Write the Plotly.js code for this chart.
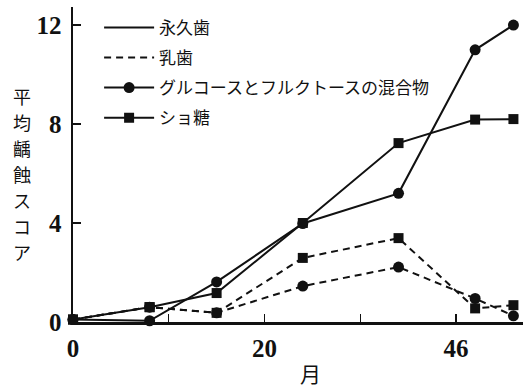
<!DOCTYPE html>
<html><head><meta charset="utf-8">
<script src="https://cdn.plot.ly/plotly-3.0.1.min.js"></script>
<style>html,body{margin:0;padding:0;background:#fff}#chart{width:532px;height:388px}</style>
</head><body><div id="chart"></div>
<script>
// Data
const months = [0, 8, 15, 24, 34, 42, 46];
const permGlucose = [0.1, 0.05, 1.62, 3.98, 5.2, 11.0, 12.0];
const permSucrose = [0.1, 0.6, 1.17, 4.0, 7.23, 8.18, 8.2];
const decidGlucose = [0.1, 0.6, 0.37, 1.45, 2.22, 0.95, 0.25];
const decidSucrose = [0.1, 0.6, 0.37, 2.59, 3.39, 0.55, 0.68];
const xTickVals = [0, 10, 20, 30, 40];
const xTickText = ['0', '', '20', '', '46'];
const yTickVals = [0, 4, 8, 12];
const yTickText = ['0', '4', '8', '12'];
const legendNames = ['永久歯', '乳歯', 'グルコースとフルクトースの混合物', 'ショ糖'];
const yTitleChars = ['平', '均', '齲', '蝕', 'ス', 'コ', 'ア'];
const xTitle = '月';

const CJK = '"Noto Sans CJK JP", "Noto Sans", sans-serif';
const NUM = '"Liberation Serif", "DejaVu Serif", serif';
const dashStyle = '7px,5px';

function series(y, dash, symbol) {
  return {
    x: months, y: y, type: 'scatter', mode: 'lines+markers',
    line: {color: '#111', width: 2, dash: dash},
    marker: {color: '#111', size: symbol === 'square' ? 10 : 11, symbol: symbol},
    showlegend: false, cliponaxis: false, hoverinfo: 'x+y'
  };
}
function legendItem(name, dash, mode, symbol, g) {
  return {
    x: [null], y: [null], type: 'scatter', mode: mode, name: name,
    legendgroup: g,
    line: {color: '#111', width: 2, dash: dash},
    marker: {color: '#111', size: symbol === 'square' ? 10 : 11, symbol: symbol || 'circle'}
  };
}

const traces = [
  series(permGlucose, 'solid', 'circle'),
  series(permSucrose, 'solid', 'square'),
  series(decidGlucose, dashStyle, 'circle'),
  series(decidSucrose, dashStyle, 'square'),
  legendItem(legendNames[0], 'solid', 'lines', null, 'a'),
  legendItem(legendNames[1], dashStyle, 'lines', null, 'b'),
  legendItem(legendNames[2], 'solid', 'lines+markers', 'circle', 'c'),
  legendItem(legendNames[3], 'solid', 'lines+markers', 'square', 'd')
];

const axisCommon = {
  showline: true, linecolor: '#111', linewidth: 2.5,
  ticks: 'inside', ticklen: 8, tickwidth: 1.2, tickcolor: '#111',
  showgrid: false, zeroline: false, fixedrange: true,
  tickfont: {family: NUM, size: 25, color: '#111', weight: 'bold'}
};

// vertical (stacked) y-axis title, one character per line
const yTitleAnnotations = yTitleChars.map((ch, i) => ({
  text: ch, xref: 'paper', yref: 'paper',
  x: -0.113, y: 0.47 + (3 - i) * 26 / 315,
  xanchor: 'center', yanchor: 'middle', showarrow: false,
  font: {family: CJK, size: 18, color: '#111'}
}));

const layout = {
  width: 532, height: 388,
  margin: {l: 73, r: 9, t: 7, b: 66},
  paper_bgcolor: '#fff', plot_bgcolor: '#fff',
  xaxis: Object.assign({}, axisCommon, {
    range: [0, 47], tickmode: 'array', tickvals: xTickVals, ticktext: xTickText,
    ticklabelstandoff: 2
  }),
  yaxis: Object.assign({}, axisCommon, {
    range: [0, 12.73], tickmode: 'array', tickvals: yTickVals, ticktext: yTickText,
    ticklabelstandoff: 4
  }),
  legend: {
    x: 0.058, y: 0.991, xanchor: 'left', yanchor: 'top',
    bgcolor: 'rgba(0,0,0,0)', borderwidth: 0,
    font: {family: CJK, size: 17, color: '#111'},
    tracegroupgap: 5, itemwidth: 50, traceorder: 'grouped'
  },
  annotations: yTitleAnnotations.concat([
    {text: xTitle, xref: 'paper', yref: 'paper',
     x: 0.527, y: -0.162, xanchor: 'center', yanchor: 'middle', showarrow: false,
     font: {family: CJK, size: 21, color: '#111'}}
  ])
};

Plotly.newPlot('chart', traces, layout, {staticPlot: true, displayModeBar: false});
</script>
</body></html>
